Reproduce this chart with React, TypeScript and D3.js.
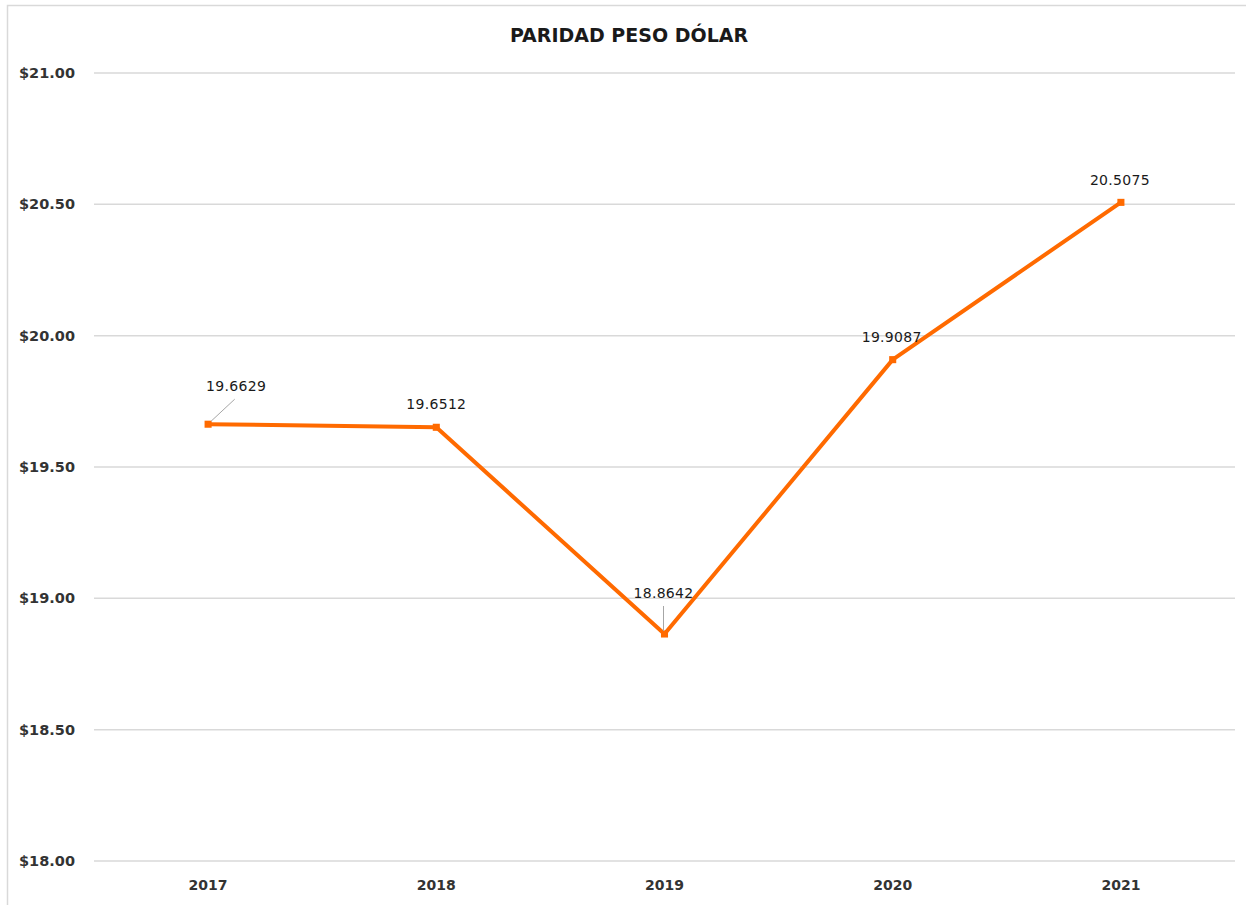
import React, { useEffect, useRef } from 'react';
import * as d3 from 'd3';

const years = ['2017', '2018', '2019', '2020', '2021'];
const rates = [19.6629, 19.6512, 18.8642, 19.9087, 20.5075];
const yTicks = [18, 18.5, 19, 19.5, 20, 20.5, 21];

const App: React.FC = () => {
  const ref = useRef<SVGSVGElement>(null);

  useEffect(() => {
    if (!ref.current) return;
    const svg = d3.select(ref.current);
    svg.selectAll('*').remove();

    const W = 1246;
    const H = 905;
    const plot = { left: 94, right: 1235, top: 73, bottom: 861 };

    // outer chart frame (only top and left visible)
    svg.append('rect')
      .attr('x', 7.5).attr('y', 5.5)
      .attr('width', W + 20).attr('height', H + 20)
      .attr('fill', '#fff')
      .attr('stroke', '#d9d9d9')
      .attr('stroke-width', 1.5);

    const x = d3.scaleBand<string>()
      .domain(years)
      .range([plot.left, plot.right]);

    const y = d3.scaleLinear()
      .domain([18, 21])
      .range([plot.bottom, plot.top]);

    const cx = (d: string) => (x(d) as number) + x.bandwidth() / 2;

    // gridlines
    svg.append('g')
      .selectAll('line')
      .data(yTicks)
      .enter().append('line')
      .attr('x1', plot.left).attr('x2', plot.right)
      .attr('y1', d => y(d)).attr('y2', d => y(d))
      .attr('stroke', '#d9d9d9')
      .attr('stroke-width', 1.5);

    // y axis labels
    svg.append('g')
      .selectAll('text')
      .data(yTicks)
      .enter().append('text')
      .attr('x', 75)
      .attr('y', d => y(d) + 5)
      .attr('text-anchor', 'end')
      .attr('font-family', 'DejaVu Sans')
      .attr('font-weight', 'bold')
      .attr('font-size', 14.5)
      .attr('fill', '#333')
      .text(d => '$' + d3.format('.2f')(d));

    // x axis labels
    svg.append('g')
      .selectAll('text')
      .data(years)
      .enter().append('text')
      .attr('x', d => cx(d))
      .attr('y', 890)
      .attr('text-anchor', 'middle')
      .attr('font-family', 'DejaVu Sans')
      .attr('font-weight', 'bold')
      .attr('font-size', 14)
      .attr('fill', '#333')
      .text(d => d);

    // title
    svg.append('text')
      .attr('x', 629)
      .attr('y', 42)
      .attr('text-anchor', 'middle')
      .attr('font-family', 'DejaVu Sans')
      .attr('font-weight', 'bold')
      .attr('font-size', 19)
      .attr('fill', '#1a1a1a')
      .text('PARIDAD PESO DÓLAR');

    const pts = years.map((yr, i) => ({ yr, v: rates[i] }));

    const line = d3.line<{ yr: string; v: number }>()
      .x(d => cx(d.yr))
      .y(d => y(d.v));

    svg.append('path')
      .datum(pts)
      .attr('fill', 'none')
      .attr('stroke', '#ff6a00')
      .attr('stroke-width', 4)
      .attr('stroke-linejoin', 'round')
      .attr('d', line);

    svg.selectAll('.mark')
      .data(pts)
      .enter().append('path')
      .attr('class', 'mark')
      .attr('transform', d => `translate(${cx(d.yr)},${y(d.v)})`)
      .attr('d', d3.symbol().type(d3.symbolSquare).size(50)())
      .attr('fill', '#ff6a00');

    // data label offsets relative to each point: [dx, dy, leader]
    const offsets: [number, number, boolean][] = [
      [28, -33, true],
      [0, -18, false],
      [-1, -36, true],
      [-1, -18, false],
      [-1, -17, false],
    ];

    pts.forEach((d, i) => {
      const px = cx(d.yr);
      const py = y(d.v);
      const [dx, dy, leader] = offsets[i];
      if (leader) {
        const slanted = Math.abs(dx) > 5;
        svg.append('line')
          .attr('x1', slanted ? px + dx * 0.95 : px + dx).attr('y1', py + dy + 8)
          .attr('x2', slanted ? px + 3 : px + dx).attr('y2', py - 3)
          .attr('stroke', '#a6a6a6')
          .attr('stroke-width', 1);
      }
      svg.append('text')
        .attr('x', px + dx)
        .attr('y', py + dy)
        .attr('text-anchor', 'middle')
        .attr('font-family', 'DejaVu Sans')
        .attr('font-size', 14)
        .attr('letter-spacing', 0.3)
        .attr('fill', '#1a1a1a')
        .text(d3.format('.4f')(d.v));
    });
  }, []);

  return (
    <div style={{ position: 'absolute', left: 0, top: 0 }}>
      <svg ref={ref} width={1246} height={905} style={{ display: 'block' }} />
    </div>
  );
};

export default App;
